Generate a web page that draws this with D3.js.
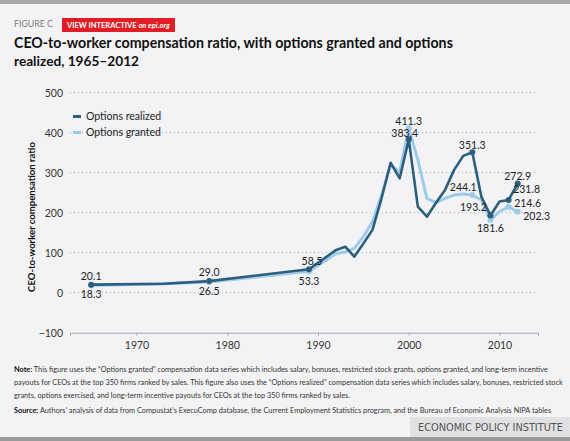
<!DOCTYPE html>
<html><head><meta charset="utf-8">
<script src="https://cdn.jsdelivr.net/npm/d3@7/dist/d3.min.js"></script>
<style>
html,body{margin:0;padding:0;background:#f3f3f5;}
svg{display:block;font-family:Lato,"Open Sans",sans-serif;}
</style></head>
<body><svg id="c" width="570" height="441"></svg>
<script>
// ---- data ----
const years    = [1965, 1973, 1978, 1989, 1992, 1993, 1994, 1995, 1996, 1997, 1998, 1999, 2000, 2001, 2002, 2003, 2004, 2005, 2006, 2007, 2008, 2009, 2010, 2011, 2012];
const realized = [20.1, 22.3, 29.0, 58.5, 107, 115, 90, 123, 157, 236, 325, 286, 383.4, 215, 190, 225, 257, 307, 342, 351.3, 240, 193.2, 228, 231.8, 272.9];
const granted  = [18.3, 22.4, 26.5, 53.3, 98, 102, 111, 140, 177, 244, 319, 302, 411.3, 332, 236, 225, 236, 244, 247, 244.1, 232, 181.6, 203, 214.6, 202.3];
const seriesNames = ["Options realized", "Options granted"];
const yTicks = [-100, 0, 100, 200, 300, 400, 500];
const xTicks = [1970, 1980, 1990, 2000, 2010];
const realizedLabelYears = [1965, 1978, 1989, 2000, 2007, 2009, 2011, 2012];
const grantedLabelYears  = [1965, 1978, 1989, 2000, 2007, 2009, 2011, 2012];

// ---- layout/style ----
const W = 570, H = 441;
const svg = d3.select("#c");
const darkC = "#2d5f7d", lightC = "#9dcbe9";
const x = d3.scaleLinear().domain([1962.67, 2014.24]).range([70, 538]);
const y = d3.scaleLinear().domain([-100, 500]).range([332.7, 92.7]);

function fit(sel, w){
  const n = sel.node();
  const fs = parseFloat(sel.attr("font-size"));
  const cur = n.getComputedTextLength();
  sel.attr("font-size", (fs * w / cur).toFixed(2));
  return sel;
}

svg.append("rect").attr("width", W).attr("height", H).attr("fill", "#f3f3f5");
svg.append("rect").attr("width", W).attr("height", 4).attr("fill", "#a7a7a9");
svg.append("rect").attr("y", H-4).attr("width", W).attr("height", 4).attr("fill", "#9a9a9c");

// header
fit(svg.append("text").attr("x", 14).attr("y", 24).attr("dy", "0.35em").attr("font-size", 11)
  .attr("fill", "#7a7a7a").text("FIGURE C"), 39);
svg.append("rect").attr("x", 62).attr("y", 18).attr("width", 113).attr("height", 14).attr("fill", "#e31d25");
const vi = svg.append("text").attr("x", 67).attr("y", 25).attr("dy", "0.35em").attr("font-size", 9)
  .attr("fill", "#fff").attr("font-weight", "bold");
vi.append("tspan").text("VIEW INTERACTIVE ");
vi.append("tspan").attr("font-style", "italic").text("on epi.org");
fit(vi, 103);

fit(svg.append("text").attr("x", 14).attr("y", 43).attr("dy", "0.35em").attr("font-size", 16)
  .attr("font-weight", "bold").attr("fill", "#111")
  .text("CEO-to-worker compensation ratio, with options granted and options"), 439);
fit(svg.append("text").attr("x", 14).attr("y", 61).attr("dy", "0.35em").attr("font-size", 16)
  .attr("font-weight", "bold").attr("fill", "#111")
  .text("realized, 1965\u20132012"), 125);

// grid
const g = svg.append("g");
g.selectAll("line.grid").data(yTicks.filter(d => d > -100)).join("line")
  .attr("x1", 70).attr("x2", 538).attr("y1", d => y(d)).attr("y2", d => y(d))
  .attr("stroke", "#a9a9ad").attr("stroke-width", 1).attr("stroke-dasharray", "1,3");

// y axis labels
const yAxis = d3.axisLeft(y).tickValues(yTicks).tickSize(0).tickPadding(0).tickFormat(d3.format("d"));
const ya = svg.append("g").attr("transform", "translate(63,0)").call(yAxis);
ya.select(".domain").remove();
ya.selectAll("text").attr("font-family", "Lato, sans-serif").attr("font-size", 10.5).attr("fill", "#333");

// x axis
const xAxis = d3.axisBottom(x).tickValues(xTicks).tickSize(3).tickPadding(6).tickFormat(d3.format("d"));
const xa = svg.append("g").attr("transform", `translate(0,${y(-100)})`).call(xAxis);
xa.select(".domain").attr("stroke", "#a9a9ad");
xa.selectAll(".tick line").attr("stroke", "#a9a9ad");
xa.selectAll("text").attr("font-family", "Lato, sans-serif").attr("font-size", 10.5).attr("fill", "#333");

// y title
fit(svg.append("text").attr("transform", "translate(32,217) rotate(-90)").attr("text-anchor", "middle")
  .attr("dy", "0.35em").attr("font-size", 11).attr("font-weight", "bold").attr("fill", "#111")
  .text("CEO-to-worker compensation ratio"), 150);

// lines
const line = d3.line().x(d => x(d[0])).y(d => y(d[1]));
const gData = years.map((yr, i) => [yr, granted[i]]);
const rData = years.map((yr, i) => [yr, realized[i]]);
svg.append("path").datum(gData).attr("d", line).attr("fill", "none").attr("stroke", lightC)
  .attr("stroke-width", 3).attr("stroke-linejoin", "round");
svg.append("path").datum(rData).attr("d", line).attr("fill", "none").attr("stroke", darkC)
  .attr("stroke-width", 2.6).attr("stroke-linejoin", "round");

// markers
function markers(data, labYears, color){
  svg.append("g").selectAll("circle").data(data.filter(d => labYears.includes(d[0]))).join("circle")
    .attr("cx", d => x(d[0])).attr("cy", d => y(d[1])).attr("r", 3).attr("fill", color);
}
markers(gData, grantedLabelYears, lightC);
markers(rData, realizedLabelYears, darkC);

// labels (offsets are styling)
const rOff = {1965:[0,-8],1978:[0,-8.5],1989:[3,-8],2000:[-4,-6],2007:[0,-6.5],2009:[-17,-8],2011:[18,-10.5],2012:[0,-7]};
const gOff = {1965:[0,9],1978:[0,9],1989:[0,9.5],2000:[0,-7],2007:[-9,-8],2009:[0,8.5],2011:[19,-4],2012:[19,5]};
function labels(data, labYears, off){
  svg.append("g").selectAll("text").data(data.filter(d => labYears.includes(d[0]))).join("text")
    .attr("x", d => x(d[0]) + off[d[0]][0]).attr("y", d => y(d[1]) + off[d[0]][1])
    .attr("dy", "0.35em").attr("text-anchor", "middle").attr("font-size", 10.5).attr("fill", "#222")
    .text(d => d3.format(".1f")(d[1]));
}
labels(gData, grantedLabelYears, gOff);
labels(rData, realizedLabelYears, rOff);

// legend
const leg = svg.append("g");
[[seriesNames[0], darkC, 116.5], [seriesNames[1], lightC, 132.5]].forEach(([t, c, yy]) => {
  leg.append("line").attr("x1", 73).attr("x2", 81).attr("y1", yy).attr("y2", yy).attr("stroke", c).attr("stroke-width", 3);
  leg.append("text").attr("x", 86).attr("y", yy).attr("dy", "0.35em").attr("font-size", 10.5).attr("fill", "#222").text(t);
});

// notes
const noteLines = [
  ["Note:", " This figure uses the \u201cOptions granted\u201d compensation data series which includes salary, bonuses, restricted stock grants, options granted, and long-term incentive", 369],
  ["", "payouts for CEOs at the top 350 firms ranked by sales. This figure also uses the \u201cOptions realized\u201d compensation data series which includes salary, bonuses, restricted stock", 382],
  ["", "grants, options exercised, and long-term incentive payouts for CEOs at the top 350 firms ranked by sales.", 395],
  ["Source:", " Authors\u2019 analysis of data from Compustat\u2019s ExecuComp database, the Current Employment Statistics program, and the Bureau of Economic Analysis NIPA tables", 410]
];
let noteFs = null;
noteLines.forEach(([b, t, yy], i) => {
  const tx = svg.append("text").attr("x", 14).attr("y", yy).attr("dy", "0.35em").attr("font-size", 8).attr("fill", "#333");
  if (b) tx.append("tspan").attr("font-weight", "bold").attr("fill", "#111").text(b);
  tx.append("tspan").text(t);
  if (i === 0) { fit(tx, 535); noteFs = tx.attr("font-size"); }
  else tx.attr("font-size", noteFs);
});

// EPI box
svg.append("rect").attr("x", 410).attr("y", 417).attr("width", 160).attr("height", 20).attr("fill", "#e1e1e3");
fit(svg.append("text").attr("x", 418).attr("y", 427.5).attr("dy", "0.35em").attr("font-size", 11)
  .attr("font-family", "'DejaVu Sans Condensed','Liberation Sans Narrow',sans-serif").attr("font-stretch", "condensed")
  .attr("fill", "#555").text("ECONOMIC POLICY INSTITUTE"), 145);
</script></body></html>
